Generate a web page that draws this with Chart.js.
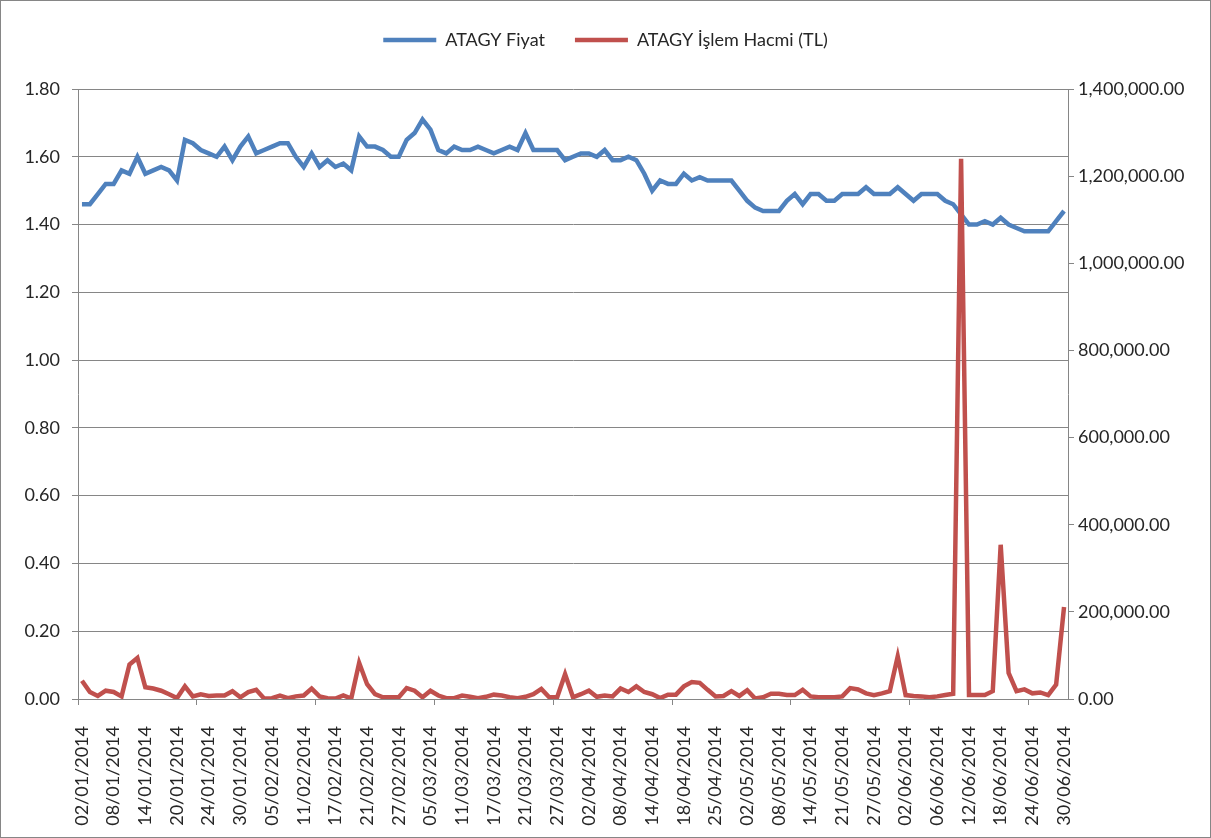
<!DOCTYPE html>
<html>
<head>
<meta charset="utf-8">
<script src="https://cdn.jsdelivr.net/npm/chart.js@4.4.0/dist/chart.umd.min.js"></script>
<style>
  html, body { margin: 0; padding: 0; background: #fff; }
  #wrap { width: 1211px; height: 838px; box-sizing: border-box; border: 1px solid #868686; }
  canvas { display: block; }
</style>
</head>
<body>
<div id="wrap"><canvas id="chart" width="1209" height="836"></canvas></div>
<script>
// Trading days (BIST), Jan - Jun 2014
const janDays = [2,3,6,7,8,9,10,13,14,15,16,17,20,21,22,23,24,27,28,29,30,31];
const febDays = [3,4,5,6,7,10,11,12,13,14,17,18,19,20,21,24,25,26,27,28];
const marDays = [3,4,5,6,7,10,11,12,13,14,17,18,19,20,21,24,25,26,27,28,31];
const aprDays = [1,2,3,4,7,8,9,10,11,14,15,16,17,18,21,22,24,25,28,29,30];
const mayDays = [2,5,6,7,8,9,12,13,14,15,16,20,21,22,23,26,27,28,29,30];
const junDays = [2,3,4,5,6,9,10,11,12,13,16,17,18,19,20,23,24,25,26,27,30];

// Price (left axis)
const fiyat = [
  1.46,1.46,1.49,1.52,1.52,1.56,1.55,1.60,1.55,1.56,
  1.57,1.56,1.53,1.65,1.64,1.62,1.61,1.60,1.63,1.59,
  1.63,1.66,1.61,1.62,1.63,1.64,1.64,1.60,1.57,1.61,
  1.57,1.59,1.57,1.58,1.56,1.66,1.63,1.63,1.62,1.60,
  1.60,1.65,1.67,1.71,1.68,1.62,1.61,1.63,1.62,1.62,
  1.63,1.62,1.61,1.62,1.63,1.62,1.67,1.62,1.62,1.62,
  1.62,1.59,1.60,1.61,1.61,1.60,1.62,1.59,1.59,1.60,
  1.59,1.55,1.50,1.53,1.52,1.52,1.55,1.53,1.54,1.53,
  1.53,1.53,1.53,1.50,1.47,1.45,1.44,1.44,1.44,1.47,
  1.49,1.46,1.49,1.49,1.47,1.47,1.49,1.49,1.49,1.51,
  1.49,1.49,1.49,1.51,1.49,1.47,1.49,1.49,1.49,1.47,
  1.46,1.43,1.40,1.40,1.41,1.40,1.42,1.40,1.39,1.38,
  1.38,1.38,1.38,1.41,1.44
];

// Trading volume in TL (right axis)
const hacim = [
  42000,16000,7000,19000,16000,6000,79000,94000,27000,24000,
  19000,11000,2000,29000,6000,11000,7000,8000,8000,18000,
  4000,16000,21000,1000,2000,8000,2000,6000,8000,24000,
  6000,2000,1000,8000,1000,83000,34000,11000,4000,4000,
  4000,25000,19000,4000,19000,8000,2000,2000,8000,5000,
  2000,5000,10000,8000,4000,2000,5000,11000,23000,4000,
  4000,57000,4000,11000,19000,5000,8000,6000,24000,16000,
  29000,16000,11000,2000,10000,10000,29000,39000,37000,21000,
  6000,7000,18000,7000,20000,1000,4000,12000,12000,9000,
  9000,21000,6000,4000,4000,4000,6000,25000,22000,13000,
  9000,13000,18000,98000,9000,7000,6000,4000,6000,9000,
  12000,1240000,9000,9000,9000,18000,354000,60000,18000,22000,
  13000,15000,9000,33000,211000
];

function pad(n) { return (n < 10 ? "0" : "") + n; }
const labels = [];
[janDays, febDays, marDays, aprDays, mayDays, junDays].forEach(function(days, m) {
  days.forEach(function(d) { labels.push(pad(d) + "/" + pad(m + 1) + "/2014"); });
});

const gridColor = "#868686";
const textColor = "#262626";
Chart.defaults.font.family = "Lato, 'Open Sans', sans-serif";
Chart.defaults.color = textColor;

const ctx = document.getElementById("chart").getContext("2d");

new Chart(ctx, {
  type: "line",
  data: {
    labels: labels,
    datasets: [{
      label: "ATAGY Fiyat",
      data: fiyat,
      borderColor: "#4F81BD",
      backgroundColor: "#4F81BD",
      borderWidth: 4.5,
      pointRadius: 0,
      tension: 0,
      yAxisID: "y",
      order: 1
    }, {
      label: "ATAGY İşlem Hacmi (TL)",
      data: hacim,
      borderColor: "#C0504D",
      backgroundColor: "#C0504D",
      borderWidth: 4.5,
      pointRadius: 0,
      tension: 0,
      yAxisID: "y1",
      order: 0
    }]
  },
  options: {
    responsive: false,
    animation: false,
    layout: { padding: 0 },
    plugins: {
      tooltip: { enabled: false },
      legend: {
        position: "top",
        labels: {
          font: { size: 18 },
          color: textColor,
          padding: 30,
          usePointStyle: true,
          pointStyle: "line",
          pointStyleWidth: 53,
          sort: function(a, b) { return a.datasetIndex - b.datasetIndex; }
        }
      },
      subtitle: {
        display: true,
        text: "",
        weight: 500,
        font: { size: 10 },
        padding: { top: 9, bottom: 9 }
      }
    },
    scales: {
      x: {
        offset: true,
        grid: {
          offset: true,
          drawOnChartArea: false,
          tickLength: 6,
          color: function(c) { return c.index % 15 === 0 ? gridColor : "rgba(0,0,0,0)"; }
        },
        border: { display: true, color: gridColor },
        ticks: {
          autoSkip: false,
          minRotation: 90,
          maxRotation: 90,
          padding: 21,
          font: { size: 18 },
          color: textColor,
          callback: function(val, index) {
            return index % 4 === 0 ? this.getLabelForValue(val) : "";
          }
        },
        afterFit: function(scale) {
          scale.height = 138;
          scale.paddingLeft = 0;
          scale.paddingRight = 0;
        }
      },
      y: {
        position: "left",
        min: 0,
        max: 1.8,
        grid: { color: gridColor, tickLength: 6 },
        border: { display: true, color: gridColor },
        ticks: {
          stepSize: 0.2,
          padding: 12,
          font: { size: 18 },
          color: textColor,
          callback: function(v) { return v.toFixed(2); }
        },
        afterFit: function(scale) { scale.width = 77; }
      },
      y1: {
        position: "right",
        min: 0,
        max: 1400000,
        grid: { drawOnChartArea: false, color: gridColor, tickLength: 6 },
        border: { display: true, color: gridColor },
        ticks: {
          stepSize: 200000,
          padding: 4,
          font: { size: 18 },
          color: textColor,
          callback: function(v) {
            return v.toLocaleString("en-US", { minimumFractionDigits: 2, maximumFractionDigits: 2 });
          }
        },
        afterFit: function(scale) { scale.width = 142; }
      }
    }
  }
});
</script>
</body>
</html>
